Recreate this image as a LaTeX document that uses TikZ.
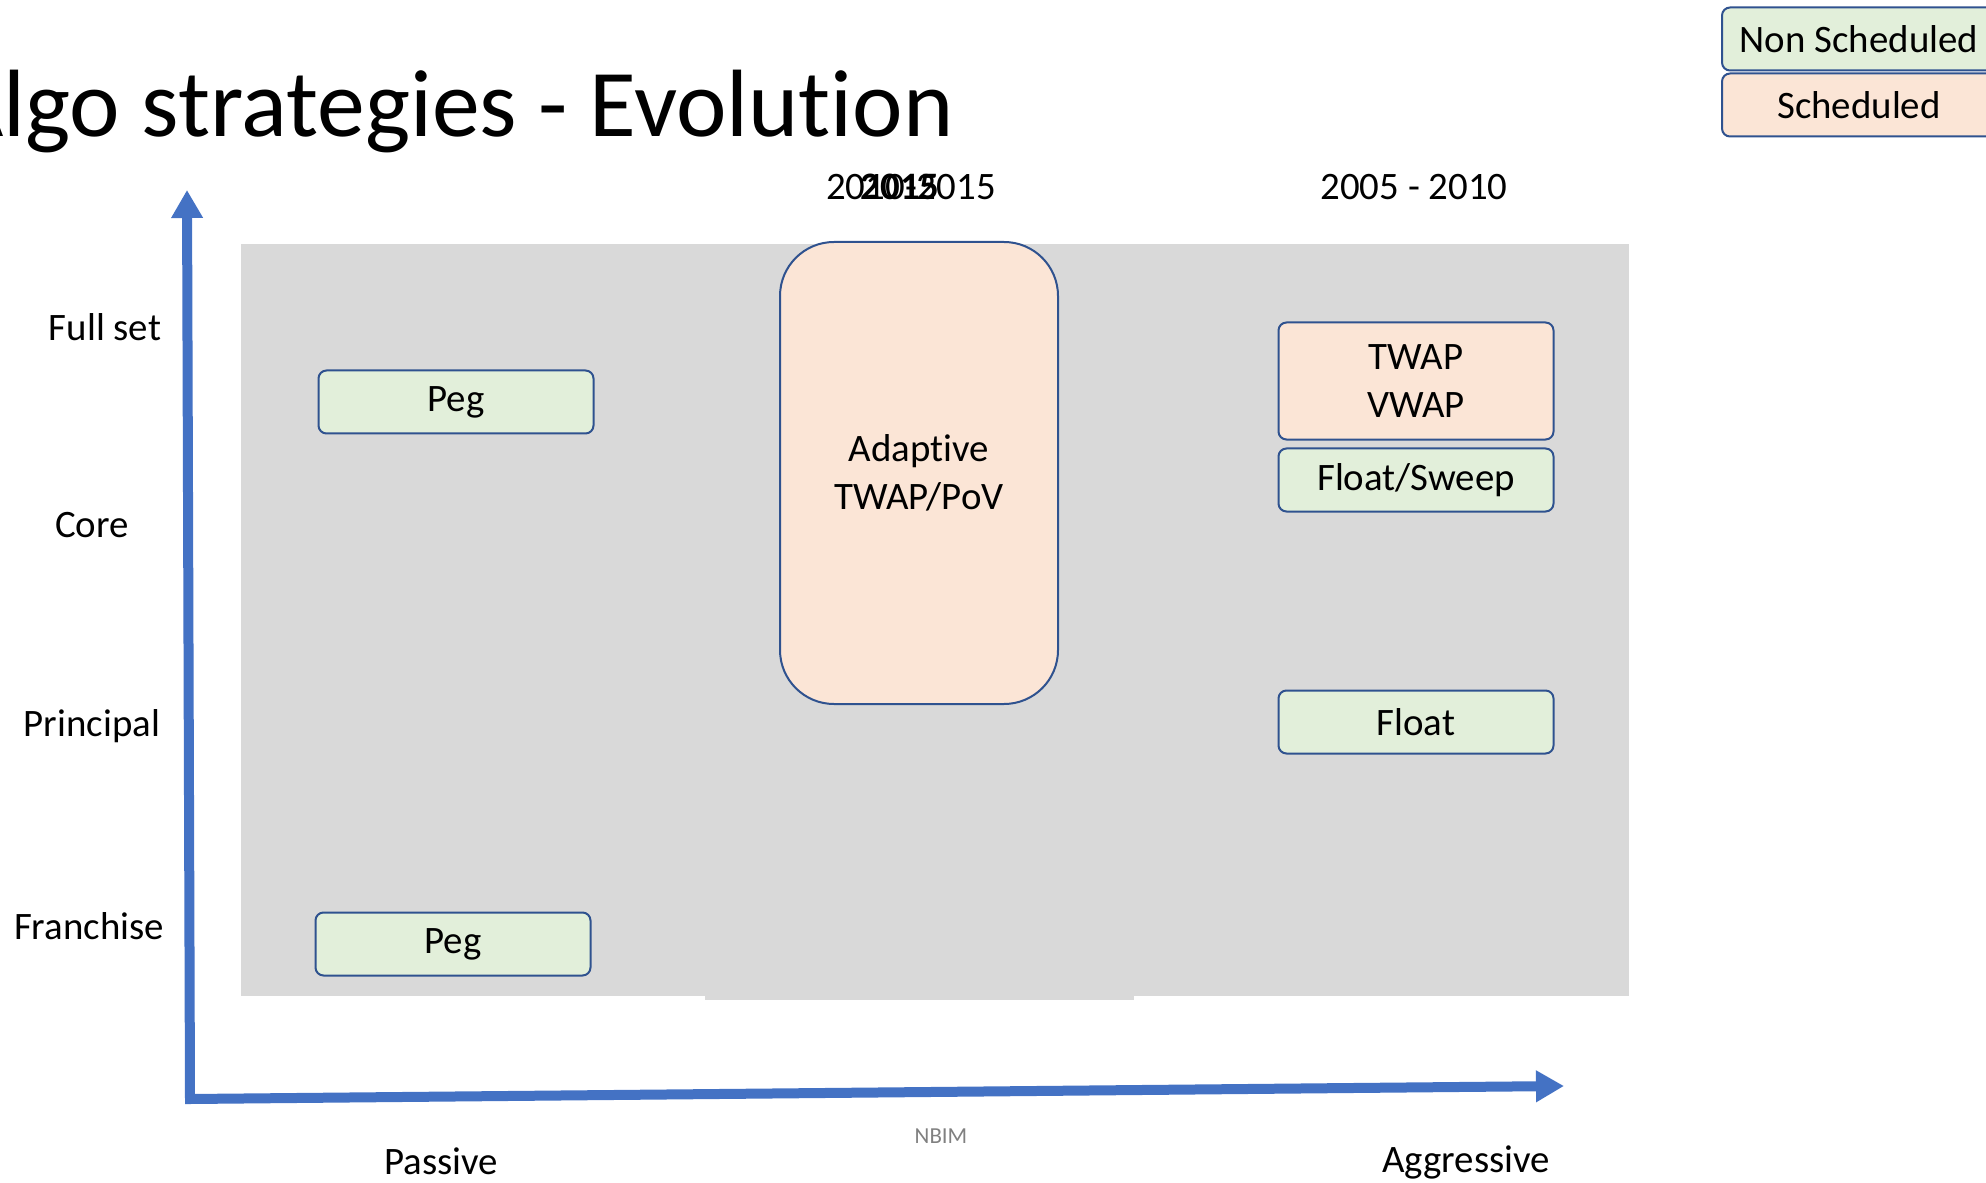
\documentclass[tikz,border=0pt]{standalone}
\usepackage{fontspec}
\setmainfont{Carlito}[Ligatures=NoCommon]
\usetikzlibrary{arrows.meta}
\definecolor{axisblue}{RGB}{68,114,196}
\definecolor{boxblue}{RGB}{47,82,143}
\definecolor{nonschedgreen}{RGB}{226,239,218}
\definecolor{schedpeach}{RGB}{251,229,214}
\definecolor{panelgrey}{RGB}{217,217,217}
\tikzset{
  algobox/.style={draw=boxblue, line width=1bp, rounded corners=4bp, minimum width=137.5bp,
    minimum height=31.5bp, inner sep=0pt, font=\fontsize{19.5}{24}\selectfont, align=center},
  nonsched/.style={algobox, fill=nonschedgreen},
  sched/.style={algobox, fill=schedpeach},
  axislabel/.style={font=\fontsize{19.5}{24}\selectfont},
  axisline/.style={draw=axisblue, line width=5bp,
    {Triangle[length=14bp,width=15bp]}-{Triangle[length=14bp,width=15bp]}},
}

\begin{document}
\begin{tikzpicture}[x=0.5bp, y=-0.5bp]
    \useasboundingbox (0,0) rectangle (1986,1183);
    % title
    \node[anchor=base east, inner sep=0pt, font=\fontsize{48}{56}\selectfont] (title) at (954,137) {Algo strategies - Evolution};
    % legend
    \node[nonsched, minimum width=137bp] (legnon) at (1859,39) {Non Scheduled};
    \node[sched, minimum width=137bp] (legsched) at (1859,105) {Scheduled};
    % grey panel
    \fill[panelgrey] (241,244) rectangle (1629,996);
    \fill[panelgrey] (705,990) rectangle (1134,1000);
    % axes
    \coordinate (origin) at (190,1099);
    \coordinate (ytop) at (187,190);
    \coordinate (xend) at (1564,1086);
    \draw[axisline] (ytop) -- (origin) -- (xend);
    % axis labels
    \node[axislabel] (fullset) at (105,327) {Full set};
    \node[axislabel] (core) at (92,525) {Core};
    \node[axislabel] (principal) at (92,726) {Principal};
    \node[axislabel] (franchise) at (89,926) {Franchise};
    \node[axislabel] (passive) at (441,1161) {Passive};
    \node[axislabel] (aggressive) at (1466,1162) {Aggressive};
    \node[font=\fontsize{11.5}{14}\selectfont, text=gray] (nbim) at (941,1136) {NBIM};
    % periods
    \node[axislabel] (period1) at (911,187) {2010-2015};
    \node[axislabel, font=\fontsize{19.5}{24}\selectfont\bfseries] (period2) at (900,187) {2015};
    \node[axislabel] (period3) at (1414,187) {2005 - 2010};
    % strategies
    \node[nonsched] (pegtop) at (456,402) {Peg};
    \node[nonsched] (pegbottom) at (453,944) {Peg};
    \node[sched, minimum width=139bp, minimum height=231bp, rounded corners=27bp] (adaptive) at (919,473) {Adaptive\\TWAP/PoV};
    \node[sched, minimum height=58.5bp] (twap) at (1416,381) {TWAP\\VWAP};
    \node[nonsched] (floatsweep) at (1416,480) {Float/Sweep};
    \node[nonsched] (float) at (1416,722) {Float};
\end{tikzpicture}
\end{document}
